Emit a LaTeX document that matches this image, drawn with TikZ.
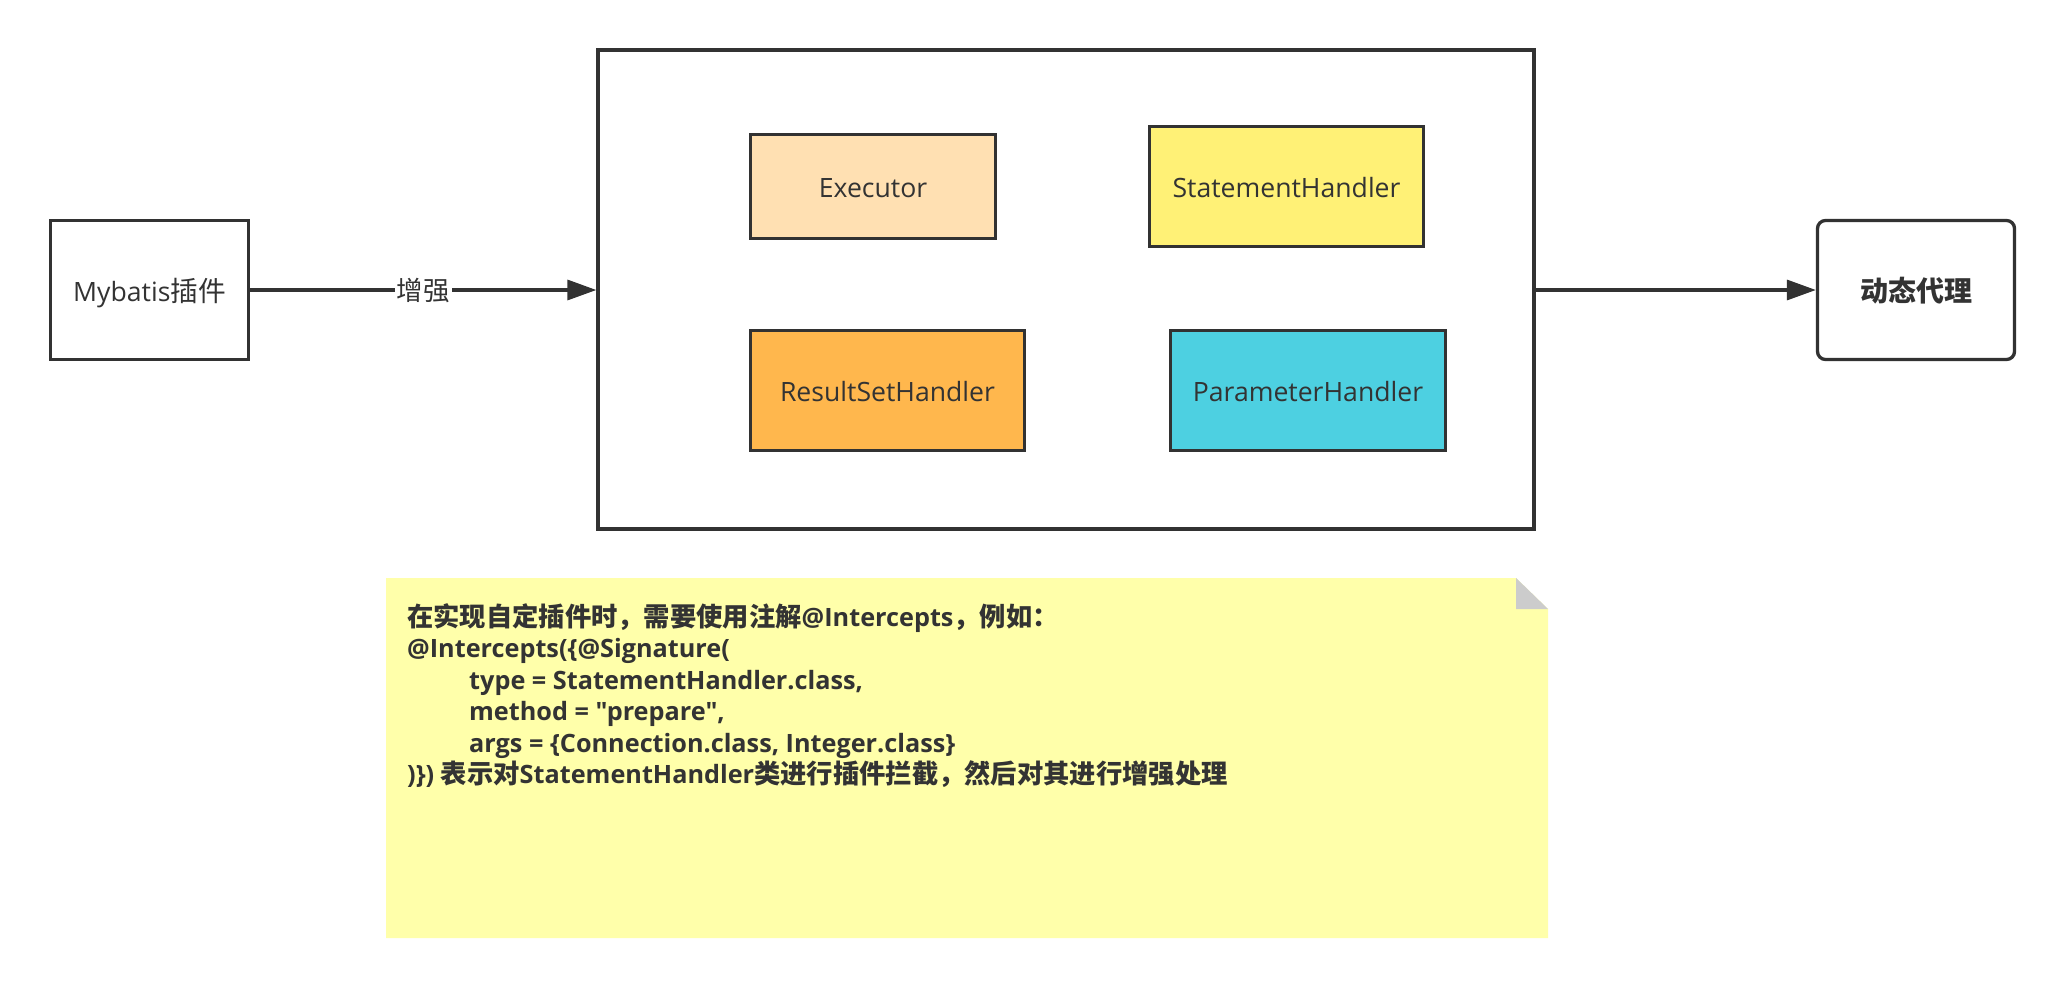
\documentclass[tikz,border=0pt]{standalone}
\usepackage{fontspec}
\setmainfont{Open Sans}[Scale=0.96,Ligatures=TeXOff]
\newfontfamily\cjk{Noto Sans CJK SC}
\usetikzlibrary{arrows.meta}
\definecolor{ink}{HTML}{323232}
\definecolor{txt}{HTML}{333333}
\definecolor{exefill}{HTML}{FFE0B2}
\definecolor{stmfill}{HTML}{FFF176}
\definecolor{resfill}{HTML}{FFB74D}
\definecolor{parfill}{HTML}{4DD0E1}
\definecolor{notefill}{HTML}{FFFFAA}
\definecolor{foldfill}{HTML}{CCCCCC}
\begin{document}
\begin{tikzpicture}[x=1pt,y=-1pt,
  box/.style={draw=ink, line width=3.3pt, inner sep=0pt, text=txt,
    font=\fontsize{27.7}{33}\selectfont, text height=22.4pt, text depth=0pt, align=center},
  conn/.style={draw=ink, line width=3.3pt, -{Triangle[length=29pt,width=20pt]}},
  notetext/.style={anchor=base west, inner sep=0pt, text=txt,
    font=\fontsize{26.3}{31.6}\selectfont\bfseries}
]
\useasboundingbox (0,0) rectangle (2066,988);
\fill[white] (0,0) rectangle (2066,988);

% nodes
\node[box, minimum width=198pt, minimum height=139pt] (myb) at (149.5,290) {Mybatis{\cjk 插件}};
\node[box, minimum width=936pt, minimum height=479pt] (big) at (1066,289.5) {};
\node[box, fill=exefill, minimum width=245pt, minimum height=104pt] (exe) at (873,186.5) {Executor};
\node[box, fill=stmfill, minimum width=274pt, minimum height=120pt] (stm) at (1286.5,186.5) {StatementHandler};
\node[box, fill=resfill, minimum width=274pt, minimum height=120pt] (res) at (887.5,390.5) {ResultSetHandler};
\node[box, fill=parfill, minimum width=275pt, minimum height=120pt] (par) at (1308,390.5) {ParameterHandler};
\node[box, rounded corners=8pt, minimum width=197pt, minimum height=139pt, font=\fontsize{28}{33}\selectfont\bfseries] (dyn) at (1916,290) {{\cjk 动态代理}};

% connectors
\draw[conn] (myb.east) -- node[fill=white, inner xsep=2pt, inner ysep=1pt, text=txt, font=\fontsize{26.5}{31}\selectfont, text height=21.4pt, text depth=0pt] (lbl) {\cjk 增强} (myb.east -| big.west);
\draw[conn] (big.east |- dyn.west) -- (dyn.west);

% note
\fill[notefill] (386,578) -- (1516,578) -- (1548,609) -- (1548,938) -- (386,938) -- cycle;
\fill[foldfill] (1516,578) -- (1548,609) -- (1516,609) -- cycle;

\node[notetext] (n1) at (407,626) {{\cjk 在实现自定插件时，需要使用注解}@Intercepts{\cjk ，例如：}};
\node[notetext] (n2) at (407,657.5) {@Intercepts(\{@Signature(};
\node[notetext] (n3) at (469,689) {type = StatementHandler.class,};
\node[notetext] (n4) at (469,720.5) {method = "prepare",};
\node[notetext] (n5) at (469,752) {args = \{Connection.class, Integer.class\}};
\node[notetext] (n6) at (407,783.5) {)\}) {\cjk 表示对}StatementHandler{\cjk 类进行插件拦截，然后对其进行增强处理}};
\end{tikzpicture}
\end{document}
